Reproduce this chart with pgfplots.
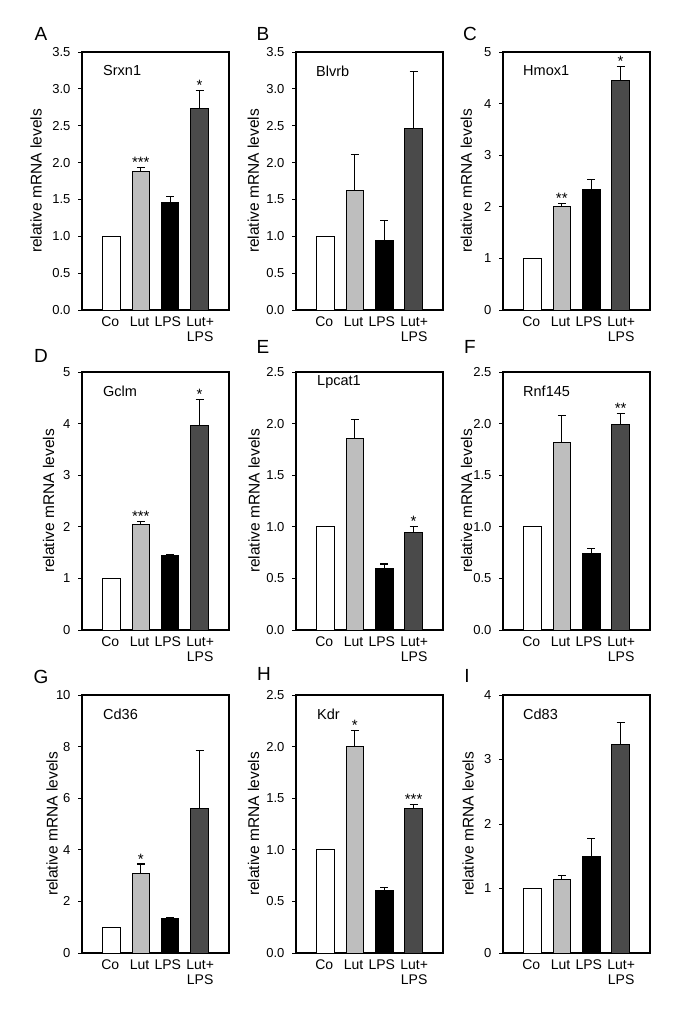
\documentclass[border=0pt]{standalone}
\usepackage{fontspec}
\setmainfont{Liberation Sans}
\usepackage{pgfplots}
\pgfplotsset{compat=1.18}

\definecolor{lutgray}{HTML}{BEBEBE}
\definecolor{combgray}{HTML}{4A4A4A}

\tikzset{gene/.style={anchor=west, inner sep=0pt, font=\fontsize{14.5}{15}\selectfont}}

\pgfplotsset{
  panel/.style={
    scale only axis, width=147pt, height=258pt,
    anchor=south west,
    xmin=-1, xmax=4, ymin=0,
    axis line style={line width=1.1pt, black},
    xtick={-0.04,0.96,1.92,3.02}, xticklabels={Co,Lut,LPS,{Lut+\\LPS}},
    x tick style={draw=none},
    ytick pos=left, tick align=outside, major tick length=4pt,
    y tick style={line width=1pt, black},
    /pgf/number format/assume math mode=true,
    xticklabel style={font=\fontsize{14}{15}\selectfont, align=center, anchor=north, inner sep=2pt, yshift=-1pt},
    yticklabel style={font=\fontsize{13}{14}\selectfont, xshift=-4pt},
    ylabel={relative mRNA levels},
    every axis y label/.style={rotate=90, anchor=center, font=\fontsize{15.5}{16}\selectfont},
  },
  dec/.style={yticklabel style={/pgf/number format/fixed, /pgf/number format/fixed zerofill, /pgf/number format/precision=1}},
  barbase/.style={ybar, bar width=17.5pt, line width=0.9pt, draw=black},
  errs/.style={error bars/.cd, y dir=plus, y explicit,
     error bar style={line width=1.2pt, black},
     error mark options={rotate=90, line width=1.2pt, black, mark size=4pt}},
  stars/.style={draw=none, mark=none, nodes near coords, point meta=explicit symbolic,
     nodes near coords style={anchor=base, inner sep=0pt, font=\fontsize{15}{15}\selectfont}},
}

% #1 Lut, #2 Lut err, #3 LPS, #4 LPS err, #5 Lut+LPS, #6 Lut+LPS err
\newcommand{\panelbars}[6]{%
  \addplot[barbase, fill=white] coordinates {(0,1)};
  \addplot[barbase, fill=lutgray, errs] coordinates {(1,#1) +- (0,#2)};
  \addplot[barbase, fill=black, errs] coordinates {(2,#3) +- (0,#4)};
  \addplot[barbase, fill=combgray, errs] coordinates {(3,#5) +- (0,#6)};
}

\begin{document}
\begin{tikzpicture}
\useasboundingbox (0,0) rectangle (685pt,-1022pt);

% ---------- Row 1 ----------
\begin{axis}[panel, dec, at={(82pt,-310pt)}, ymax=3.5, ytick={0,0.5,1,1.5,2,2.5,3,3.5},
  ylabel style={at={(axis description cs:-0.313,0.5)}}]
  \panelbars{1.883}{0.047}{1.463}{0.082}{2.73}{0.246}
  \addplot[stars] coordinates {(1,1.93) [***] (3,2.976) [*]};
  \node[gene, xshift=21pt, yshift=-19pt] at (rel axis cs:0,1) {Srxn1};
\end{axis}

\begin{axis}[panel, dec, at={(296pt,-310pt)}, ymax=3.5, ytick={0,0.5,1,1.5,2,2.5,3,3.5},
  ylabel style={at={(axis description cs:-0.29,0.5)}}]
  \panelbars{1.626}{0.488}{0.94}{0.27}{2.46}{0.78}
  \node[gene, xshift=20pt, yshift=-19pt] at (rel axis cs:0,1) {Blvrb};
\end{axis}

\begin{axis}[panel, at={(503pt,-310pt)}, ymax=5, ytick={0,1,2,3,4,5},
  ylabel style={at={(axis description cs:-0.25,0.5)}}]
  \panelbars{2.0}{0.065}{2.34}{0.19}{4.45}{0.27}
  \addplot[stars] coordinates {(1,2.065) [**] (3,4.72) [*]};
  \node[gene, xshift=20pt, yshift=-19pt] at (rel axis cs:0,1) {Hmox1};
\end{axis}

% ---------- Row 2 ----------
\begin{axis}[panel, at={(82pt,-630pt)}, ymax=5, ytick={0,1,2,3,4,5},
  ylabel style={at={(axis description cs:-0.228,0.5)}}]
  \panelbars{2.04}{0.06}{1.45}{0.013}{3.96}{0.5}
  \addplot[stars] coordinates {(1,2.10) [***] (3,4.46) [*]};
  \node[gene, xshift=21pt, yshift=-19pt] at (rel axis cs:0,1) {Gclm};
\end{axis}

\begin{axis}[panel, dec, at={(296pt,-630pt)}, ymax=2.5, ytick={0,0.5,1,1.5,2,2.5},
  ylabel style={at={(axis description cs:-0.286,0.5)}}]
  \panelbars{1.856}{0.184}{0.60}{0.04}{0.948}{0.055}
  \addplot[stars] coordinates {(3,1.003) [*]};
  \node[gene, xshift=21pt, yshift=-10pt] at (rel axis cs:0,1) {Lpcat1};
\end{axis}

\begin{axis}[panel, dec, at={(503pt,-630pt)}, ymax=2.5, ytick={0,0.5,1,1.5,2,2.5},
  ylabel style={at={(axis description cs:-0.247,0.5)}}]
  \panelbars{1.82}{0.26}{0.74}{0.05}{1.995}{0.105}
  \addplot[stars] coordinates {(3,2.10) [**]};
  \node[gene, xshift=20pt, yshift=-19pt] at (rel axis cs:0,1) {Rnf145};
\end{axis}

% ---------- Row 3 ----------
\begin{axis}[panel, at={(82pt,-953pt)}, ymax=10, ytick={0,2,4,6,8,10},
  ylabel style={at={(axis description cs:-0.204,0.5)}}]
  \panelbars{3.08}{0.37}{1.34}{0.03}{5.6}{2.25}
  \addplot[stars] coordinates {(1,3.45) [*]};
  \node[gene, xshift=21pt, yshift=-19pt] at (rel axis cs:0,1) {Cd36};
\end{axis}

\begin{axis}[panel, dec, at={(296pt,-953pt)}, ymax=2.5, ytick={0,0.5,1,1.5,2,2.5},
  ylabel style={at={(axis description cs:-0.289,0.5)}}]
  \panelbars{2.006}{0.149}{0.61}{0.025}{1.403}{0.037}
  \addplot[stars] coordinates {(1,2.155) [*] (3,1.44) [***]};
  \node[gene, xshift=21pt, yshift=-19pt] at (rel axis cs:0,1) {Kdr};
\end{axis}

\begin{axis}[panel, at={(503pt,-953pt)}, ymax=4, ytick={0,1,2,3,4},
  ylabel style={at={(axis description cs:-0.238,0.5)}}]
  \panelbars{1.14}{0.06}{1.49}{0.29}{3.24}{0.33}
  \node[gene, xshift=20pt, yshift=-19pt] at (rel axis cs:0,1) {Cd83};
\end{axis}

% ---------- Panel letters ----------
\begin{scope}[every node/.style={font=\fontsize{19}{19}\selectfont, inner sep=0pt}]
  \node at (41pt,-34pt) {A};
  \node at (263pt,-34pt) {B};
  \node at (470pt,-34pt) {C};
  \node at (41pt,-356pt) {D};
  \node at (263pt,-347pt) {E};
  \node at (470pt,-347pt) {F};
  \node at (41pt,-677pt) {G};
  \node at (264pt,-674pt) {H};
  \node at (467pt,-676pt) {I};
\end{scope}
\end{tikzpicture}
\end{document}
